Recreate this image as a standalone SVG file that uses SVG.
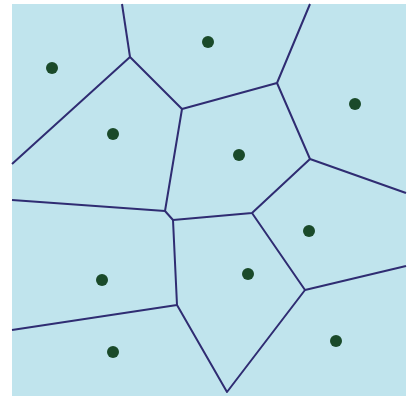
<svg xmlns="http://www.w3.org/2000/svg" width="411" height="396" viewBox="0 0 411 396">
<style>
.e{stroke:#2f2c72;stroke-width:2;fill:none;stroke-linejoin:round}
.s{fill:#1a4a2a}
</style>
<rect x="0" y="0" width="411" height="396" fill="#ffffff"/>
<rect id="region" x="12" y="4" width="394" height="392" fill="#c0e4ed"/>
<g id="connectors">
<path class="e" d="M122,4 L130,57"/>
<path class="e" d="M12,164 L130,57 L182,109 L277,83 L310,4"/>
<path class="e" d="M277,83 L310,159 L406,193"/>
<path class="e" d="M182,109 L165,211 L173,220 L252,213 L310,159"/>
<path class="e" d="M12,200 L165,211"/>
<path class="e" d="M173,220 L177,305 L12,330"/>
<path class="e" d="M177,305 L227,392 L305,290 L252,213"/>
<path class="e" d="M305,290 L406,266"/>
</g>
<g id="site1"><circle class="s" cx="52" cy="68" r="6"/></g>
<g id="site2"><circle class="s" cx="113" cy="134" r="6"/></g>
<g id="site3"><circle class="s" cx="208" cy="42" r="6"/></g>
<g id="site4"><circle class="s" cx="355" cy="104" r="6"/></g>
<g id="site5"><circle class="s" cx="239" cy="155" r="6"/></g>
<g id="site6"><circle class="s" cx="102" cy="280" r="6"/></g>
<g id="site7"><circle class="s" cx="113" cy="352" r="6"/></g>
<g id="site8"><circle class="s" cx="309" cy="231" r="6"/></g>
<g id="site9"><circle class="s" cx="248" cy="274" r="6"/></g>
<g id="site10"><circle class="s" cx="336" cy="341" r="6"/></g>
</svg>
